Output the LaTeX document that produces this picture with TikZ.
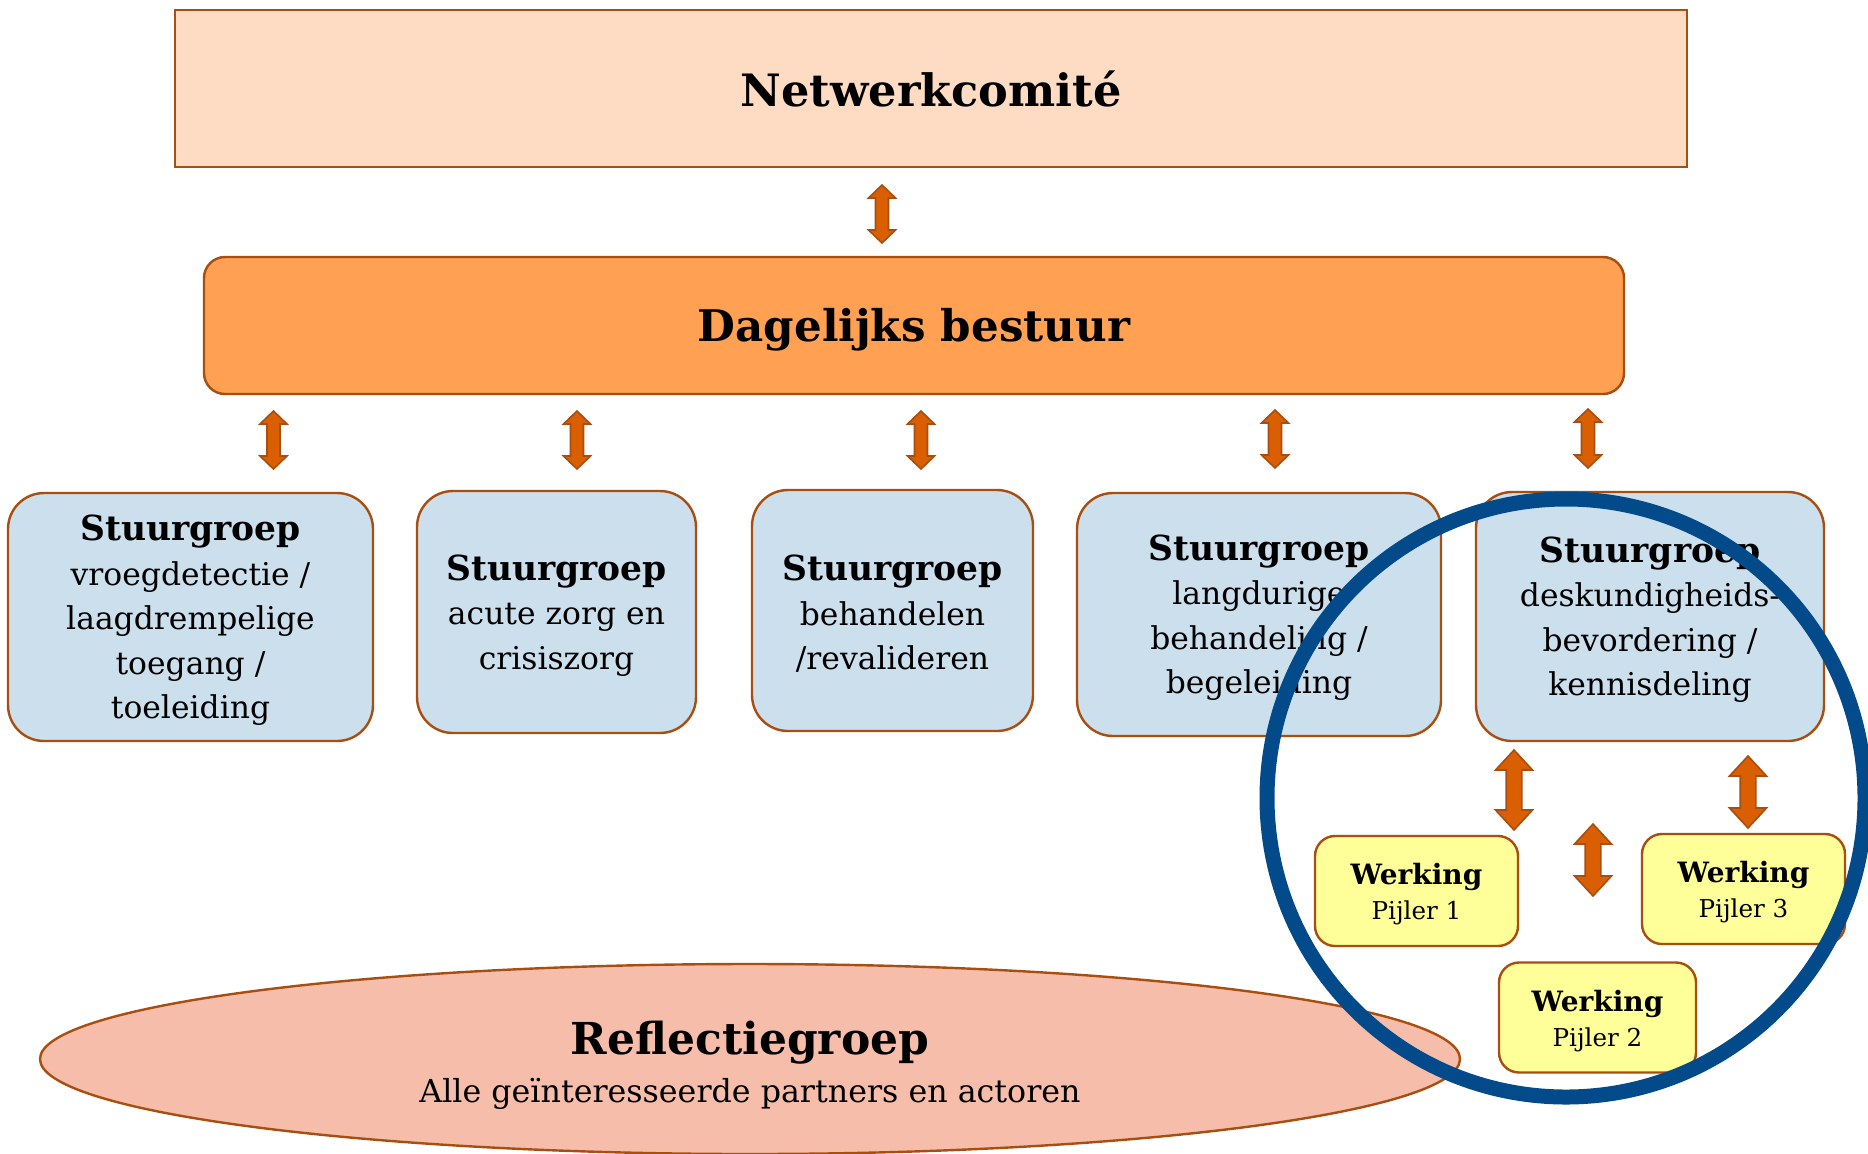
\documentclass[tikz,border=0pt]{standalone}
\usepackage{fontspec}
\setmainfont{DejaVu Serif}
\usetikzlibrary{shapes.geometric}
\definecolor{brd}{HTML}{A84E10}
\definecolor{peach}{HTML}{FEDCC4}
\definecolor{orng}{HTML}{FFA052}
\definecolor{lblue}{HTML}{CCDFEC}
\definecolor{yel}{HTML}{FFFF99}
\definecolor{salm}{HTML}{F6BEAA}
\definecolor{arrf}{HTML}{D95F02}
\definecolor{dblue}{HTML}{034A8B}
\newcommand\udArrow[6]{% x, ytop, ybot, headhalf, shafthalf, headlen
  \draw[arrowsty] ({#1-#5},{#2+#6}) -- ({#1-#4},{#2+#6}) -- (#1,#2) -- ({#1+#4},{#2+#6}) -- ({#1+#5},{#2+#6})
   -- ({#1+#5},{#3-#6}) -- ({#1+#4},{#3-#6}) -- (#1,#3) -- ({#1-#4},{#3-#6}) -- ({#1-#5},{#3-#6}) -- cycle;}
\newcommand\stTitle{{\fontsize{17.25}{22.25}\selectfont\bfseries\rule{0pt}{16.2pt}Stuurgroep}}
\newcommand\wkTitle{{\fontsize{14}{17.5}\selectfont\bfseries\rule{0pt}{14.2pt}Werking}}
\begin{document}
\begin{tikzpicture}[x=0.5pt,y=-0.5pt,
  box/.style={draw=brd, line width=1.2pt, align=center, inner sep=0pt},
  stuur/.style={box, fill=lblue, rounded corners=18pt, font=\fontsize{15.7}{22.25}\selectfont},
  werk/.style={box, fill=yel, rounded corners=10pt, font=\fontsize{12.3}{17.5}\selectfont},
  arrowsty/.style={fill=arrf, draw=brd, line width=0.8pt, line join=miter}]
\useasboundingbox (0,0) rectangle (1868,1153);

\node[box, fill=peach, minimum width=756pt, minimum height=78.5pt,
      font=\fontsize{22.3}{26}\selectfont\bfseries] (nc) at (931,88.5) {Netwerkcomité};
\node[box, fill=orng, rounded corners=10.5pt, minimum width=710pt, minimum height=68.5pt,
      text height=16.6pt, text depth=0.5pt,
      font=\fontsize{21.8}{26}\selectfont\bfseries] (db) at (914,325.5) {Dagelijks bestuur};

\node[stuur, minimum width=182.5pt, minimum height=124pt] (s1) at (190.5,617)
  {\stTitle\\vroegdetectie /\\laagdrempelige\\toegang /\\toeleiding};
\node[stuur, minimum width=139.5pt, minimum height=121pt] (s2) at (556.5,612)
  {\stTitle\\acute zorg en\\crisiszorg};
\node[stuur, minimum width=140.5pt, minimum height=120.5pt] (s3) at (892.5,610.5)
  {\stTitle\\behandelen\\/revalideren};
\node[stuur, minimum width=182pt, minimum height=121.5pt] (s4) at (1259,614.5)
  {\stTitle\\langdurige\\behandeling /\\begeleiding};
\node[stuur, minimum width=174pt, minimum height=124.5pt] (s5) at (1650,616.5)
  {\stTitle\\deskundigheids-\\bevordering /\\kennisdeling};

\node[werk, minimum width=101.5pt, minimum height=55pt] (w1) at (1416.5,891)
  {\wkTitle\\Pijler 1};
\node[werk, minimum width=101.5pt, minimum height=55pt] (w3) at (1743.5,889)
  {\wkTitle\\Pijler 3};
\node[werk, minimum width=98.5pt, minimum height=55pt] (w2) at (1597.5,1017.5)
  {\wkTitle\\Pijler 2};

\node[ellipse, draw=brd, line width=1.2pt, fill=salm, minimum width=710pt, minimum height=95pt,
      align=center, inner sep=0pt, font=\fontsize{15.85}{24}\selectfont] (rg) at (750,1059)
  {{\fontsize{22}{24}\selectfont\bfseries\rule{0pt}{22.7pt}Reflectiegroep}\\Alle geïnteresseerde partners en actoren};

% arrows
\udArrow{882}{185}{243}{13.5}{6.5}{13}
\udArrow{273.5}{411}{469}{13.5}{6.5}{13}
\udArrow{577}{411}{469}{13.5}{6.5}{13}
\udArrow{921}{411}{469}{13.5}{6.5}{13}
\udArrow{1275}{410}{468}{13.5}{6.5}{13}
\udArrow{1588}{409}{468}{13.5}{6.5}{13}
\udArrow{1514}{750}{830}{18.5}{7.8}{20}
\udArrow{1748}{756}{828}{18.5}{7.8}{20}
\udArrow{1593}{824}{896}{18.5}{7.8}{20}

\node[draw=dblue, line width=7.5pt, circle, minimum size=299pt, inner sep=0pt, outer sep=0pt] (focus) at (1566,798) {};
\end{tikzpicture}
\end{document}
